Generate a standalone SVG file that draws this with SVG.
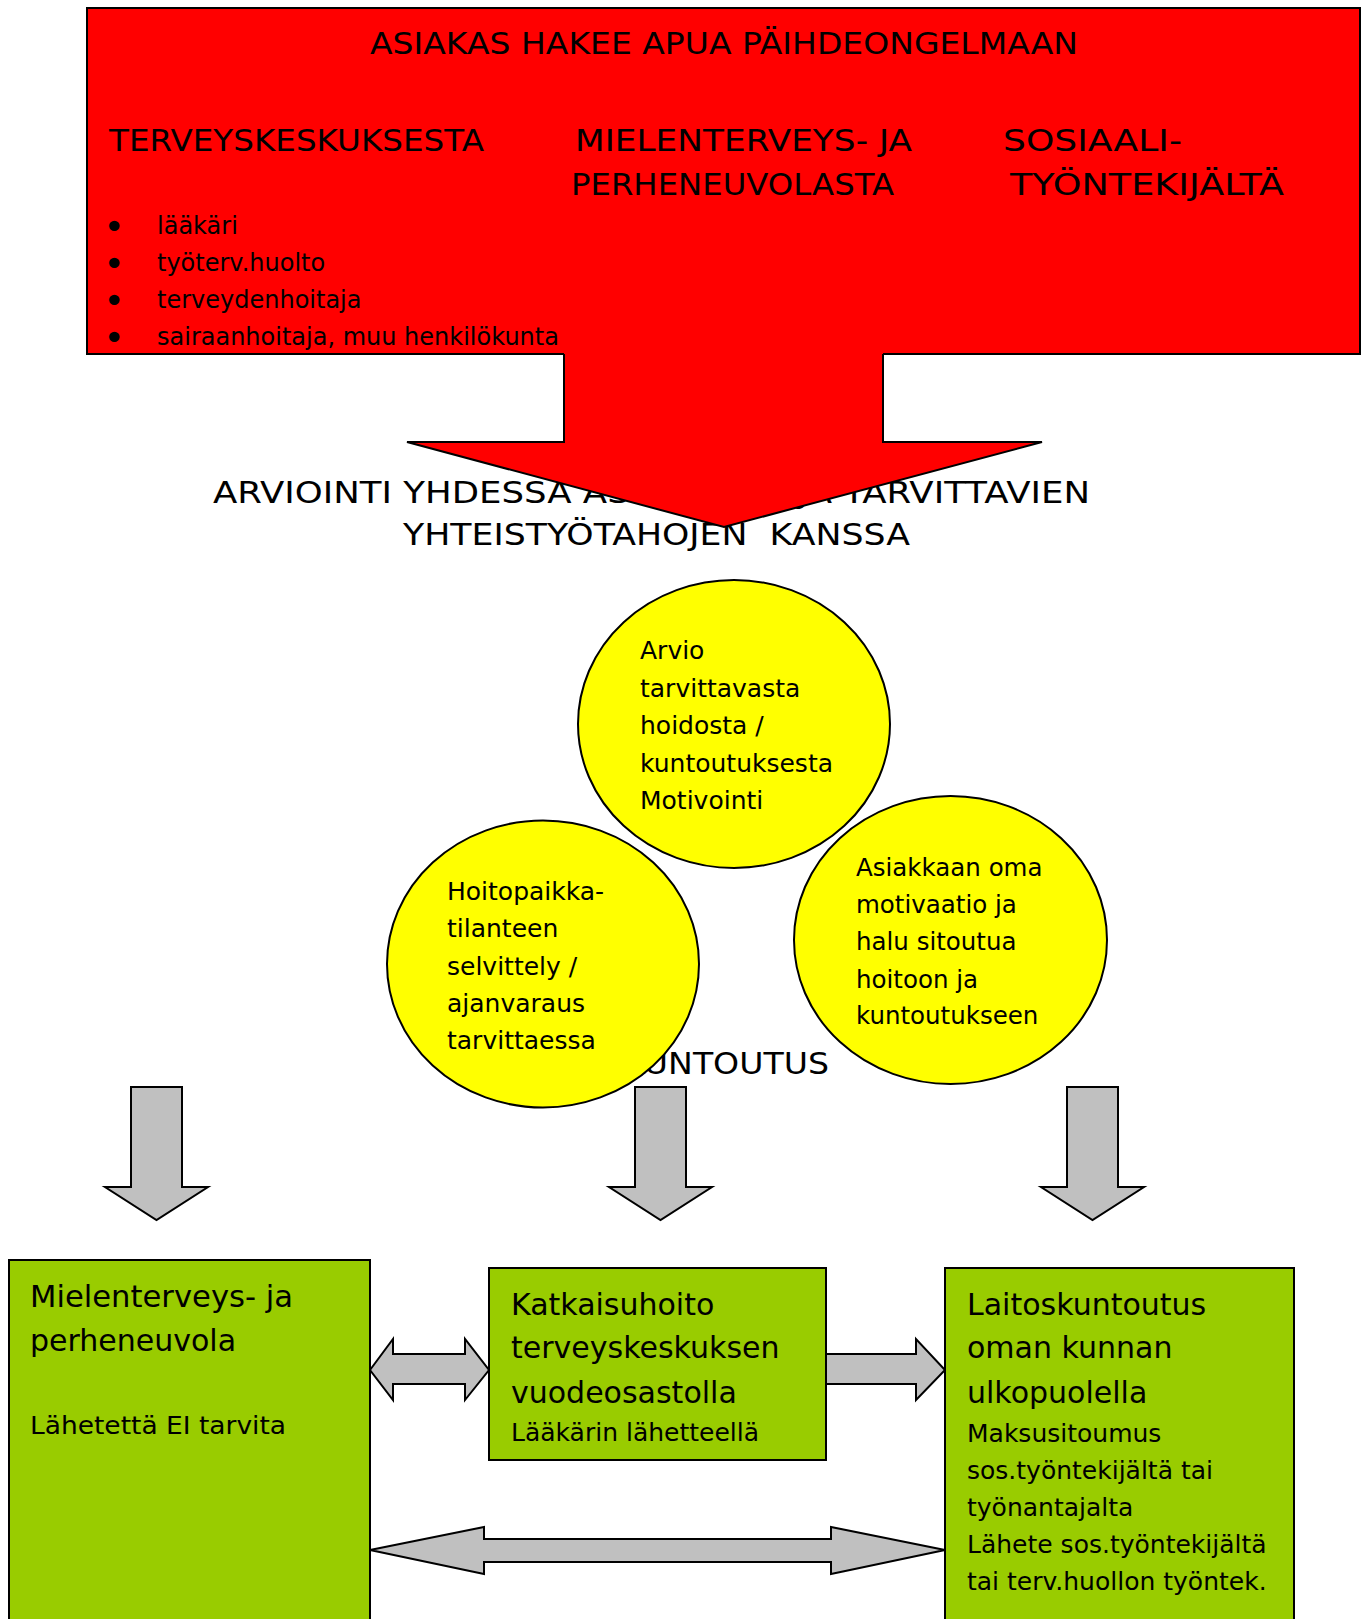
<svg xmlns="http://www.w3.org/2000/svg" width="1368" height="1619" viewBox="0 0 1368 1619">
<style>
.t{font-family:"DejaVu Sans","Liberation Sans",sans-serif;fill:#000}
.cap{font-size:30px}
.big{font-size:30px}
.sm{font-size:25px}
.b{font-size:24px}
.bul{font-size:36px}
.red{fill:#FF0000;stroke:#000;stroke-width:2}
.yel{fill:#FFFF00;stroke:#000;stroke-width:2}
.grn{fill:#99CC00;stroke:#000;stroke-width:2}
.gry{fill:#C0C0C0;stroke:#000;stroke-width:2;stroke-linejoin:miter}
</style>
<rect width="1368" height="1619" fill="#fff"/>

<g id="top-box">
  <rect class="red" x="87" y="8" width="1273" height="346"/>
  <text class="t cap" x="370" y="54" textLength="708" lengthAdjust="spacingAndGlyphs">ASIAKAS HAKEE APUA PÄIHDEONGELMAAN</text>
  <text class="t cap" x="109" y="151" textLength="375" lengthAdjust="spacingAndGlyphs">TERVEYSKESKUKSESTA</text>
  <text class="t cap" x="575" y="151" textLength="337" lengthAdjust="spacingAndGlyphs">MIELENTERVEYS- JA</text>
  <text class="t cap" x="571" y="195" textLength="323" lengthAdjust="spacingAndGlyphs">PERHENEUVOLASTA</text>
  <text class="t cap" x="1003" y="151" textLength="179" lengthAdjust="spacingAndGlyphs">SOSIAALI-</text>
  <text class="t cap" x="1010" y="195" textLength="274" lengthAdjust="spacingAndGlyphs">TYÖNTEKIJÄLTÄ</text>
  <g class="t bul">
    <text x="114" y="239" text-anchor="middle">•</text>
    <text x="114" y="276" text-anchor="middle">•</text>
    <text x="114" y="313" text-anchor="middle">•</text>
    <text x="114" y="350" text-anchor="middle">•</text>
  </g>
  <g class="t b">
    <text x="157" y="234">lääkäri</text>
    <text x="157" y="271">työterv.huolto</text>
    <text x="157" y="308">terveydenhoitaja</text>
    <text x="157" y="345">sairaanhoitaja, muu henkilökunta</text>
  </g>
</g>

<g id="assessment-text">
  <text class="t cap" x="213" y="503" textLength="877" lengthAdjust="spacingAndGlyphs">ARVIOINTI YHDESSA ASIAKKAAN JA TARVITTAVIEN</text>
  <text class="t cap" x="403" y="545" textLength="507" lengthAdjust="spacingAndGlyphs" style="white-space:pre">YHTEISTYÖTAHOJEN  KANSSA</text>
</g>

<g id="kuntoutus-text">
  <text class="t cap" x="623" y="1074" textLength="206" lengthAdjust="spacingAndGlyphs">KUNTOUTUS</text>
</g>

<g id="connectors">
  <g id="red-arrow">
    <polygon points="564,352 883,352 883,442 1042,442 724,527 407,442 564,442" fill="#FF0000"/>
    <polyline points="564,354 564,442 407,442 724,527 1042,442 883,442 883,354" fill="none" stroke="#000" stroke-width="2"/>
  </g>
  <polygon class="gry" points="131,1087 182,1087 182,1187 208,1187 156.5,1220 105,1187 131,1187"/>
  <polygon class="gry" points="635,1087 686,1087 686,1187 712,1187 660.5,1220 609,1187 635,1187"/>
  <polygon class="gry" points="1067,1087 1118,1087 1118,1187 1144,1187 1092.5,1220 1041,1187 1067,1187"/>
  <polygon class="gry" points="370,1370 393,1339 393,1354 465,1354 465,1339 489,1370 465,1400 465,1384 393,1384 393,1400"/>
  <polygon class="gry" points="826,1354 916,1354 916,1339 945,1370 916,1400 916,1384 826,1384"/>
  <polygon class="gry" points="370,1550 484,1527 484,1539 831,1539 831,1527 945,1550 831,1574 831,1562 484,1562 484,1574"/>
</g>

<g id="ellipse-top">
  <ellipse class="yel" cx="734" cy="724" rx="156" ry="144"/>
  <g class="t sm">
    <text x="640" y="659">Arvio</text>
    <text x="640" y="697">tarvittavasta</text>
    <text x="640" y="734">hoidosta /</text>
    <text x="640" y="772">kuntoutuksesta</text>
    <text x="640" y="809">Motivointi</text>
  </g>
</g>

<g id="ellipse-left">
  <ellipse class="yel" cx="543" cy="964" rx="156" ry="143.5"/>
  <g class="t sm">
    <text x="447" y="900">Hoitopaikka-</text>
    <text x="447" y="937">tilanteen</text>
    <text x="447" y="975">selvittely /</text>
    <text x="447" y="1012">ajanvaraus</text>
    <text x="447" y="1049">tarvittaessa</text>
  </g>
</g>

<g id="ellipse-right">
  <ellipse class="yel" cx="950.5" cy="940" rx="156.5" ry="144"/>
  <g class="t" style="font-size:24.5px">
    <text x="856" y="876">Asiakkaan oma</text>
    <text x="856" y="913">motivaatio ja</text>
    <text x="856" y="950">halu sitoutua</text>
    <text x="856" y="988">hoitoon ja</text>
    <text x="856" y="1024">kuntoutukseen</text>
  </g>
</g>

<g id="box-mielenterveys">
  <rect class="grn" x="9" y="1260" width="361" height="380"/>
  <text class="t big" x="30" y="1307" textLength="263" lengthAdjust="spacingAndGlyphs">Mielenterveys- ja</text>
  <text class="t big" x="30" y="1351">perheneuvola</text>
  <text class="t sm" x="30" y="1434" textLength="256" lengthAdjust="spacingAndGlyphs">Lähetettä EI tarvita</text>
</g>

<g id="box-katkaisuhoito">
  <rect class="grn" x="489" y="1268" width="337" height="192"/>
  <text class="t big" x="511" y="1315">Katkaisuhoito</text>
  <text class="t big" x="511" y="1358">terveyskeskuksen</text>
  <text class="t big" x="511" y="1403">vuodeosastolla</text>
  <text class="t sm" x="511" y="1441">Lääkärin lähetteellä</text>
</g>

<g id="box-laitoskuntoutus">
  <rect class="grn" x="945" y="1268" width="349" height="380"/>
  <text class="t big" x="967" y="1315">Laitoskuntoutus</text>
  <text class="t big" x="967" y="1358">oman kunnan</text>
  <text class="t big" x="967" y="1403">ulkopuolella</text>
  <text class="t sm" x="967" y="1442">Maksusitoumus</text>
  <text class="t sm" x="967" y="1479">sos.työntekijältä tai</text>
  <text class="t sm" x="967" y="1516">työnantajalta</text>
  <text class="t sm" x="967" y="1553">Lähete sos.työntekijältä</text>
  <text class="t sm" x="967" y="1590">tai terv.huollon työntek.</text>
</g>
</svg>
